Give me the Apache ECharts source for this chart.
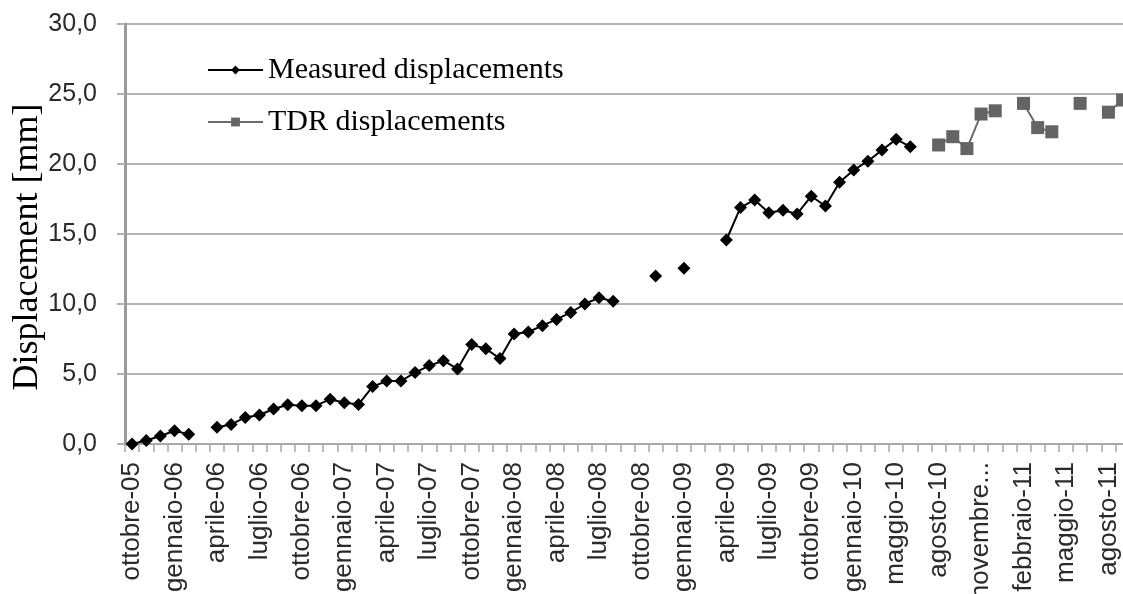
<!DOCTYPE html>
<html>
<head>
<meta charset="utf-8">
<script src="https://cdn.jsdelivr.net/npm/echarts@6/dist/echarts.min.js"></script>
<style>
html,body{margin:0;padding:0;background:#fff;}
#chart{width:1123px;height:594px;}
</style>
</head>
<body>
<div id="chart"></div>
<script>
const categories = [
  'ottobre-05','novembre-05','dicembre-05',
  'gennaio-06','febbraio-06','marzo-06','aprile-06','maggio-06','giugno-06','luglio-06','agosto-06','settembre-06','ottobre-06','novembre-06','dicembre-06',
  'gennaio-07','febbraio-07','marzo-07','aprile-07','maggio-07','giugno-07','luglio-07','agosto-07','settembre-07','ottobre-07','novembre-07','dicembre-07',
  'gennaio-08','febbraio-08','marzo-08','aprile-08','maggio-08','giugno-08','luglio-08','agosto-08','settembre-08','ottobre-08','novembre-08','dicembre-08',
  'gennaio-09','febbraio-09','marzo-09','aprile-09','maggio-09','giugno-09','luglio-09','agosto-09','settembre-09','ottobre-09','novembre-09','dicembre-09',
  'gennaio-10','febbraio-10','aprile-10','maggio-10','giugno-10','luglio-10','agosto-10','settembre-10','ottobre-10','novembre-10','dicembre-10',
  'gennaio-11','febbraio-11','marzo-11','aprile-11','maggio-11','giugno-11','luglio-11','agosto-11','settembre-11'
];

const measured = [
  0.0, 0.25, 0.57, 0.95, 0.7, null, 1.2, 1.4, 1.9, 2.07,
  2.5, 2.8, 2.74, 2.74, 3.2, 2.95, 2.83, 4.1, 4.5, 4.5,
  5.1, 5.6, 5.95, 5.36, 7.1, 6.8, 6.1, 7.86, 8.0, 8.45,
  8.9, 9.4, 10.0, 10.45, 10.2, null, null, 12.0, null, 12.55,
  null, null, 14.57, 16.9, 17.43, 16.52, 16.7, 16.43, 17.7, 17.0,
  18.7, 19.57, 20.2, 21.0, 21.76, 21.24, null, null, null, null,
  null, null, null, null, null, null, null, null, null, null,
  null
];

const tdr = [
  null, null, null, null, null, null, null, null, null, null,
  null, null, null, null, null, null, null, null, null, null,
  null, null, null, null, null, null, null, null, null, null,
  null, null, null, null, null, null, null, null, null, null,
  null, null, null, null, null, null, null, null, null, null,
  null, null, null, null, null, null, null, 21.36, 21.95, 21.1,
  23.57, 23.8, null, 24.33, 22.6, 22.3, null, 24.33, null, 23.7,
  24.57
];

const seriesNames = ['Measured displacements', 'TDR displacements'];
const yTitle = 'Displacement [mm]';

const chart = echarts.init(document.getElementById('chart'), null, {renderer: 'canvas'});
const catW = 14.15;
chart.setOption({
  animation: false,
  backgroundColor: '#ffffff',
  grid: {left: 125, top: 24, bottom: 150, width: catW * categories.length, containLabel: false, outerBoundsMode: 'none'},
  legend: {
    orient: 'vertical',
    left: 202,
    top: 49,
    itemWidth: 55,
    itemHeight: 11,
    itemGap: 20,
    data: seriesNames,
    textStyle: {fontFamily: 'Liberation Serif', fontSize: 30, color: '#000', lineHeight: 32}
  },
  graphic: [{
    type: 'text',
    x: 28, y: 247,
    rotation: Math.PI / 2,
    style: {text: yTitle, font: '36px "Liberation Serif"', fill: '#000', align: 'center', verticalAlign: 'middle'}
  }],
  xAxis: {
    type: 'category',
    data: categories,
    boundaryGap: true,
    axisLine: {lineStyle: {color: '#a8a8a8', width: 2}},
    axisTick: {show: true, interval: 0, length: 8, lineStyle: {color: '#a8a8a8', width: 1.5}},
    axisLabel: {
      interval: 2, rotate: 90, margin: 18,
      fontFamily: 'Liberation Sans', fontSize: 26, color: '#2a2a2a',
      width: 140, overflow: 'truncate', padding: [6, 0, 0, 0]
    },
    splitLine: {show: false}
  },
  yAxis: {
    type: 'value',
    min: 0, max: 30, interval: 5,
    axisLine: {show: true, lineStyle: {color: '#9a9a9a', width: 3}},
    axisTick: {show: true, length: 8, lineStyle: {color: '#b0b0b0', width: 2}},
    axisLabel: {
      margin: 28, fontFamily: 'Liberation Sans', fontSize: 25, color: '#2a2a2a',
      formatter: v => v.toFixed(1).replace('.', ',')
    },
    splitLine: {show: true, lineStyle: {color: '#b4b4b4', width: 2}}
  },
  series: [
    {
      name: seriesNames[0],
      type: 'line',
      data: measured,
      connectNulls: false,
      symbol: 'diamond',
      symbolSize: [13, 13],
      showAllSymbol: true,
      lineStyle: {color: '#000', width: 2},
      itemStyle: {color: '#000'},
      z: 3
    },
    {
      name: seriesNames[1],
      type: 'line',
      data: tdr,
      connectNulls: false,
      symbol: 'rect',
      symbolSize: 13,
      showAllSymbol: true,
      lineStyle: {color: '#6a6a6a', width: 2},
      itemStyle: {color: '#646464'},
      z: 2
    }
  ]
});
</script>
</body>
</html>
